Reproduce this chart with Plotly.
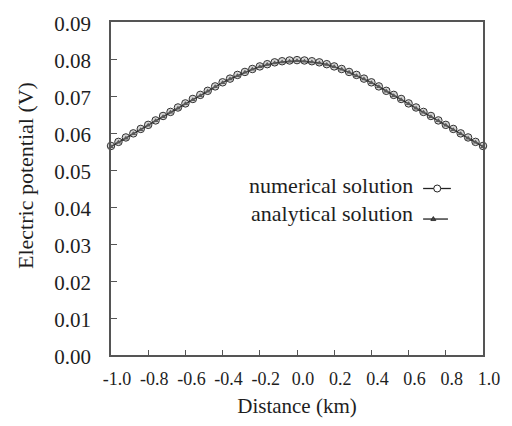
import plotly.graph_objects as go

distance_km = [-1.00, -0.96, -0.92, -0.88, -0.84, -0.80, -0.76, -0.72, -0.68, -0.64,
               -0.60, -0.56, -0.52, -0.48, -0.44, -0.40, -0.36, -0.32, -0.28, -0.24,
               -0.20, -0.16, -0.12, -0.08, -0.04, 0.00, 0.04, 0.08, 0.12, 0.16,
               0.20, 0.24, 0.28, 0.32, 0.36, 0.40, 0.44, 0.48, 0.52, 0.56,
               0.60, 0.64, 0.68, 0.72, 0.76, 0.80, 0.84, 0.88, 0.92, 0.96, 1.00]

analytical = [0.0563, 0.0575, 0.0586, 0.0598, 0.0609, 0.0621, 0.0633, 0.0644, 0.0656, 0.0667,
              0.0679, 0.0690, 0.0701, 0.0713, 0.0725, 0.0736, 0.0746, 0.0755, 0.0764, 0.0772,
              0.0779, 0.0785, 0.0789, 0.0792, 0.0794, 0.0795, 0.0794, 0.0792, 0.0789, 0.0785,
              0.0779, 0.0772, 0.0764, 0.0755, 0.0746, 0.0736, 0.0725, 0.0713, 0.0701, 0.0690,
              0.0679, 0.0667, 0.0656, 0.0644, 0.0633, 0.0621, 0.0609, 0.0598, 0.0586, 0.0575, 0.0563]

numerical = [0.0565, 0.0576, 0.0588, 0.0599, 0.0611, 0.0622, 0.0634, 0.0646, 0.0657, 0.0669,
             0.0680, 0.0692, 0.0703, 0.0714, 0.0726, 0.0737, 0.0747, 0.0757, 0.0765, 0.0773,
             0.0780, 0.0786, 0.0791, 0.0794, 0.0796, 0.0797, 0.0796, 0.0794, 0.0791, 0.0786,
             0.0780, 0.0773, 0.0765, 0.0757, 0.0747, 0.0737, 0.0726, 0.0714, 0.0703, 0.0692,
             0.0680, 0.0669, 0.0657, 0.0646, 0.0634, 0.0622, 0.0611, 0.0599, 0.0588, 0.0576, 0.0565]

x_ticks = [-1.0, -0.8, -0.6, -0.4, -0.2, 0.0, 0.2, 0.4, 0.6, 0.8, 1.0]
x_ticklabels = ["-1.0", "-0.8", "-0.6", "-0.4", "-0.2", "0.0", "0.2", "0.4", "0.6", "0.8", "1.0"]
y_ticks = [0.00, 0.01, 0.02, 0.03, 0.04, 0.05, 0.06, 0.07, 0.08, 0.09]
y_ticklabels = ["0.00", "0.01", "0.02", "0.03", "0.04", "0.05", "0.06", "0.07", "0.08", "0.09"]

FONT = "Times New Roman"
TXT = "#1e1e1e"
AX = "#555555"

fig = go.Figure()
fig.add_trace(go.Scatter(
    x=distance_km, y=analytical, mode="lines+markers", name="analytical solution",
    line=dict(color="#1a1a1a", width=1.5),
    marker=dict(symbol="triangle-up", size=5, color="#333333"),
    showlegend=False, cliponaxis=False))
fig.add_trace(go.Scatter(
    x=distance_km, y=numerical, mode="markers", name="numerical solution",
    marker=dict(symbol="circle", size=7.5, color="rgba(150,150,150,0.4)",
                line=dict(color="#333333", width=1)),
    showlegend=False, cliponaxis=False))

# legend (text left, symbol right)
def xp(px):
    return (px - 111) / 382

def yp(py):
    return (358 - py) / 338

ann = [
    dict(text="numerical solution", x=xp(423), y=yp(185.5), xref="paper", yref="paper",
         xanchor="right", yanchor="middle", showarrow=False,
         font=dict(family=FONT, size=22, color=TXT)),
    dict(text="analytical solution", x=xp(423), y=yp(214), xref="paper", yref="paper",
         xanchor="right", yanchor="middle", showarrow=False,
         font=dict(family=FONT, size=22, color=TXT)),
    dict(text="Electric potential (V)", x=xp(23), y=yp(176), xref="paper", yref="paper",
         xanchor="center", yanchor="middle", textangle=-90, showarrow=False,
         font=dict(family=FONT, size=22, color=TXT)),
]
shapes = [
    dict(type="line", xref="paper", yref="paper", x0=xp(431.5), x1=xp(460), y0=yp(189), y1=yp(189),
         line=dict(color="#222222", width=1.3)),
    dict(type="circle", xref="paper", yref="paper", xsizemode="pixel", ysizemode="pixel",
         xanchor=xp(446), yanchor=yp(189), x0=-3.5, x1=3.5, y0=-3.5, y1=3.5,
         fillcolor="white", line=dict(color="#222222", width=1)),
    dict(type="line", xref="paper", yref="paper", x0=xp(431.5), x1=xp(457), y0=yp(220), y1=yp(220),
         line=dict(color="#222222", width=1.3)),
    dict(type="path", xref="paper", yref="paper", xsizemode="pixel", ysizemode="pixel",
         xanchor=xp(442), yanchor=yp(220), path="M -2.5,-1.5 L 2.5,-1.5 L 0,2.5 Z",
         fillcolor="#444444", line=dict(color="#222222", width=0.8)),
]

fig.update_layout(
    width=512, height=426,
    margin=dict(l=111, r=19, t=20, b=68),
    paper_bgcolor="white", plot_bgcolor="white",
    font=dict(family=FONT, color=TXT),
    annotations=ann, shapes=shapes,
)
fig.update_xaxes(
    range=[-1.0, 1.0], tickvals=x_ticks, ticktext=x_ticklabels,
    ticks="inside", ticklen=5, tickwidth=1.3, tickcolor=AX,
    showline=True, linecolor=AX, linewidth=1.5, mirror=True,
    showgrid=False, zeroline=False,
    tickfont=dict(family=FONT, size=18, color=TXT),
    ticklabelstandoff=7, ticklabelshift=6,
    title=dict(text="Distance (km)", font=dict(family=FONT, size=21, color=TXT), standoff=10),
)
fig.update_yaxes(
    range=[0.0, 0.09], tickvals=y_ticks, ticktext=y_ticklabels,
    ticks="inside", ticklen=6, tickwidth=1.3, tickcolor=AX,
    showline=True, linecolor=AX, linewidth=1.5, mirror=True,
    showgrid=False, zeroline=False,
    tickfont=dict(family=FONT, size=21, color=TXT),
    ticklabelstandoff=14, ticklabelshift=2,
)

fig.write_html("out.html")
